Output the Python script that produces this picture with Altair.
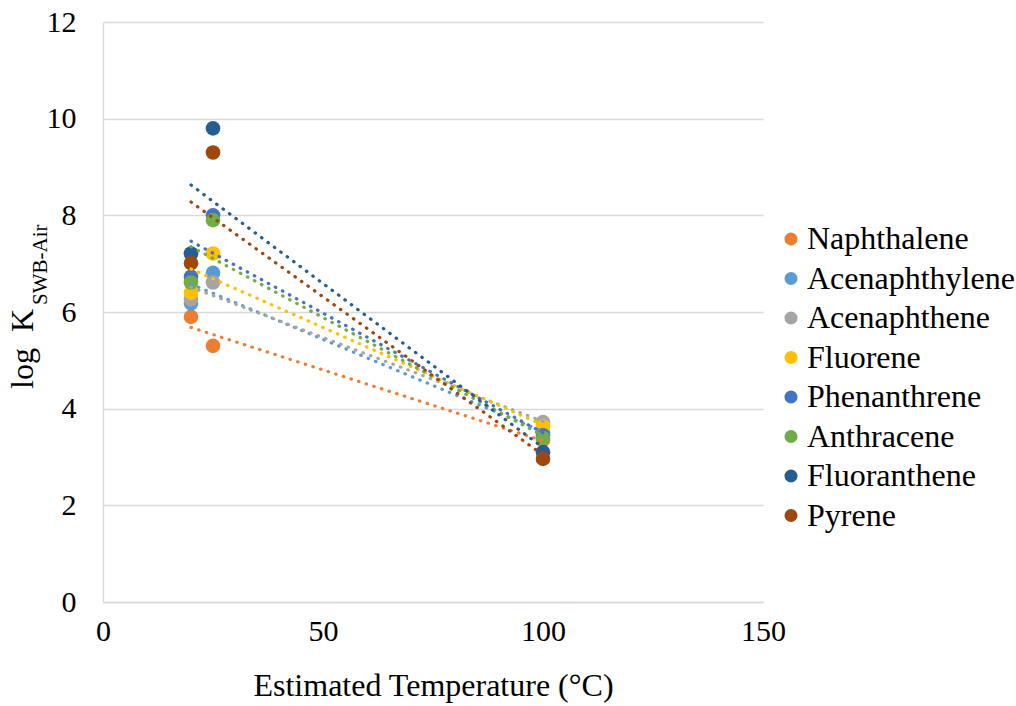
import altair as alt
import pandas as pd

# Partition coefficients (log K, SWB-Air) at three estimated temperatures
temperatures = [20, 25, 100]
compounds = [
    "Naphthalene", "Acenaphthylene", "Acenaphthene", "Fluorene",
    "Phenanthrene", "Anthracene", "Fluoranthene", "Pyrene",
]
colors = [
    "#ED7D31", "#5B9BD5", "#A5A5A5", "#FFC000",
    "#4472C4", "#70AD47", "#255E91", "#9E480E",
]
naphthalene = [5.90, 5.30, 3.35]
acenaphthylene = [6.18, 6.81, 3.50]
acenaphthene = [6.26, 6.61, 3.72]
fluorene = [6.40, 7.21, 3.63]
phenanthrene = [6.73, 8.00, 3.45]
anthracene = [6.61, 7.90, 3.39]
fluoranthene = [7.21, 9.80, 3.10]
pyrene = [7.01, 9.30, 2.96]

series_values = [
    naphthalene, acenaphthylene, acenaphthene, fluorene,
    phenanthrene, anthracene, fluoranthene, pyrene,
]

rows = []
for order, (name, vals) in enumerate(zip(compounds, series_values)):
    for t, v in zip(temperatures, vals):
        rows.append({"compound": name, "order": order, "temp": t, "logk": v})
df = pd.DataFrame(rows)

FONT = "Liberation Serif"

x_enc = alt.X(
    "temp:Q",
    scale=alt.Scale(domain=[0, 150], nice=False),
    axis=alt.Axis(
        values=[0, 50, 100, 150], grid=False, ticks=False,
        domainColor="#d9d9d9", domainWidth=1.3,
        labelFont=FONT, labelFontSize=30, labelColor="#000000",
        labelPadding=14, labelFlush=False,
        title="Estimated Temperature (°C)", titleFont=FONT,
        titleFontSize=32, titleFontWeight="normal", titleColor="#000000",
        titlePadding=24,
    ),
)
y_enc = alt.Y(
    "logk:Q",
    scale=alt.Scale(domain=[0, 12], nice=False),
    axis=alt.Axis(
        values=[0, 2, 4, 6, 8, 10, 12], grid=True, gridColor="#d9d9d9",
        gridWidth=1.3, ticks=False, domainColor="#d9d9d9", domainWidth=1.3,
        labelFont=FONT, labelFontSize=30, labelColor="#000000",
        labelPadding=27, title=None,
    ),
)
color_scale = alt.Scale(domain=compounds, range=colors)

points = alt.Chart(df).mark_circle(size=215, opacity=1).encode(
    x=x_enc,
    y=y_enc,
    order=alt.Order("order:Q"),
    color=alt.Color(
        "compound:N",
        scale=color_scale,
        sort=compounds,
        legend=alt.Legend(
            title=None, orient="none", legendX=672, legendY=201,
            labelFont=FONT, labelFontSize=32, labelColor="#000000",
            symbolType="circle", symbolSize=170, symbolStrokeWidth=0,
            symbolOpacity=1, rowPadding=7.5, labelOffset=0, padding=0,
            labelLimit=400,
        ),
    ),
)

# Linear trendlines per compound, spanning the measured temperature range
trends = alt.Chart(df).transform_regression(
    "temp", "logk", groupby=["compound"], method="linear"
).mark_line(
    strokeWidth=3.2, strokeDash=[0.5, 7.5], strokeCap="round"
).encode(
    x="temp:Q",
    y="logk:Q",
    color=alt.Color("compound:N", scale=color_scale, legend=None),
)

# Y-axis title with subscript
title_df = pd.DataFrame({"t": ["log\u00a0\u00a0K"], "s": ["SWB-Air"]})
ytitle_main = alt.Chart(title_df).mark_text(
    angle=270, align="right", baseline="alphabetic",
    font=FONT, fontSize=32, color="#000000",
).encode(x=alt.value(-70), y=alt.value(287), text="t:N")
ytitle_sub = alt.Chart(title_df).mark_text(
    angle=270, align="left", baseline="alphabetic",
    font=FONT, fontSize=21, color="#000000",
).encode(x=alt.value(-56), y=alt.value(283), text="s:N")

chart = alt.layer(points, trends, ytitle_main, ytitle_sub).properties(
    width=660, height=580,
    autosize=alt.AutoSizeParams(type="none"),
    padding={"left": 103, "top": 22, "right": 253, "bottom": 104},
    background="white",
).configure(
    font=FONT
).configure_axis(
    labelFont=FONT, titleFont=FONT
).configure_legend(
    labelFont=FONT
).configure_view(stroke=None)

chart.save("out.html", embed_options={"renderer": "svg", "actions": False})
